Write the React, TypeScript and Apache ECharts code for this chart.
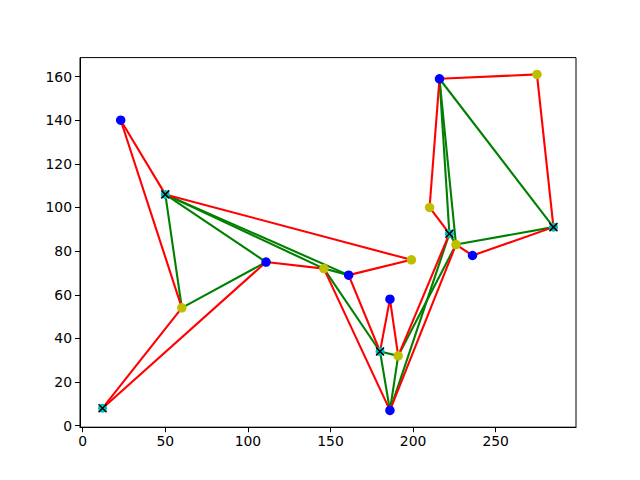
import React, { useEffect, useRef } from "react";
import * as echarts from "echarts";

// Points (id -> [x, y])
const bluePoints: [string, number, number][] = [
  ["B1", 23, 140],
  ["B2", 111, 75],
  ["B3", 161, 69],
  ["B4", 186, 58],
  ["B5", 186, 7],
  ["B6", 216, 159],
  ["B7", 236, 78],
];
const yellowPoints: [string, number, number][] = [
  ["Y1", 60, 54],
  ["Y2", 146, 72],
  ["Y3", 199, 76],
  ["Y4", 191, 32],
  ["Y5", 210, 100],
  ["Y6", 226, 83],
  ["Y7", 275, 161],
];
const cyanPoints: [string, number, number][] = [
  ["C1", 12, 8],
  ["C2", 50, 106],
  ["C3", 180, 34],
  ["C4", 222, 88],
  ["C5", 285, 91],
];

// Red tour (closed)
const redTour: string[] = [
  "B1", "C2", "Y3", "B3", "C3", "B4", "Y4", "C4", "Y5", "B6",
  "Y7", "C5", "B7", "Y6", "B5", "Y2", "B2", "C1", "Y1", "B1",
];

// Green edges
const greenEdges: [string, string][] = [
  ["C2", "Y1"], ["Y1", "B2"], ["C2", "B2"],
  ["C2", "Y2"], ["C2", "B3"], ["Y2", "B3"],
  ["Y2", "C3"], ["C3", "Y4"], ["C3", "B5"], ["Y4", "B5"],
  ["B5", "C4"], ["Y4", "Y6"],
  ["C4", "Y6"], ["C4", "B6"], ["Y6", "B6"],
  ["B6", "C5"], ["Y6", "C5"],
];

const xTicks = [0, 50, 100, 150, 200, 250];
const yTicks = [0, 20, 40, 60, 80, 100, 120, 140, 160];

export default function App() {
  const ref = useRef<HTMLDivElement>(null);
  useEffect(() => {
    if (!ref.current) return;
    const chart = echarts.init(ref.current, undefined, { renderer: "svg" });
    const all = [...bluePoints, ...yellowPoints, ...cyanPoints];
    const pos: Record<string, [number, number]> = {};
    all.forEach(([id, x, y]) => (pos[id] = [x, y]));
    const xs = all.map((p) => p[1]);
    const ys = all.map((p) => p[2]);
    const xmin0 = Math.min(...xs), xmax0 = Math.max(...xs);
    const ymin0 = Math.min(...ys), ymax0 = Math.max(...ys);
    const mx = (xmax0 - xmin0) * 0.05, my = (ymax0 - ymin0) * 0.05;

    const redSegs = [] as any[];
    for (let i = 0; i < redTour.length - 1; i++) {
      redSegs.push({ coords: [pos[redTour[i]], pos[redTour[i + 1]]] });
    }
    const greenSegs = greenEdges.map(([a, b]) => ({ coords: [pos[a], pos[b]] }));

    const font = "DejaVu Sans";
    const axisCommon = {
      type: "value" as const,
      splitLine: { show: false },
      axisLine: { show: true, onZero: false, lineStyle: { color: "#000", width: 1 } },
      axisTick: { show: true, inside: false, length: 5, lineStyle: { color: "#000", width: 1 } },
    };

    chart.setOption({
      animation: false,
      grid: {
        left: 80, right: 64, top: 57.6, bottom: 52.8,
        show: true, borderColor: "#000", borderWidth: 1, backgroundColor: "transparent",
      },
      xAxis: {
        ...axisCommon,
        min: xmin0 - mx, max: xmax0 + mx,
        axisTick: { ...axisCommon.axisTick, customValues: xTicks },
        axisLabel: { customValues: xTicks, color: "#000", fontFamily: font, fontSize: 13.9, margin: 7 },
      },
      yAxis: {
        ...axisCommon,
        min: ymin0 - my, max: ymax0 + my,
        axisTick: { ...axisCommon.axisTick, customValues: yTicks },
        axisLabel: { customValues: yTicks, color: "#000", fontFamily: font, fontSize: 13.9, margin: 8 },
      },
      series: [
        {
          type: "lines", coordinateSystem: "cartesian2d", data: greenSegs,
          lineStyle: { color: "#008000", width: 2.1, opacity: 1 }, z: 2,
        },
        {
          type: "lines", coordinateSystem: "cartesian2d", data: redSegs,
          lineStyle: { color: "#ff0000", width: 2.1, opacity: 1 }, z: 3,
        },
        {
          type: "scatter", data: bluePoints.map((p) => [p[1], p[2]]),
          symbol: "circle", symbolSize: 9.5, itemStyle: { color: "#0000ff", opacity: 1 }, z: 4,
        },
        {
          type: "scatter", data: yellowPoints.map((p) => [p[1], p[2]]),
          symbol: "circle", symbolSize: 9.5, itemStyle: { color: "#bfbf00", opacity: 1 }, z: 4,
        },
        {
          type: "scatter", data: cyanPoints.map((p) => [p[1], p[2]]),
          symbol: "circle", symbolSize: 9, itemStyle: { color: "#00bfbf", opacity: 1 }, z: 4,
        },
        {
          type: "scatter", data: cyanPoints.map((p) => [p[1], p[2]]),
          symbol: "path://M0,0L10,10M10,0L0,10", symbolSize: 8,
          itemStyle: { color: "none", borderColor: "#000", borderWidth: 1.5, opacity: 1 }, z: 5,
        },
      ],
    });
    return () => chart.dispose();
  }, []);
  return (
    <div
      ref={ref}
      style={{ position: "fixed", left: 0, top: 0, width: 640, height: 480, background: "#fff" }}
    />
  );
}
